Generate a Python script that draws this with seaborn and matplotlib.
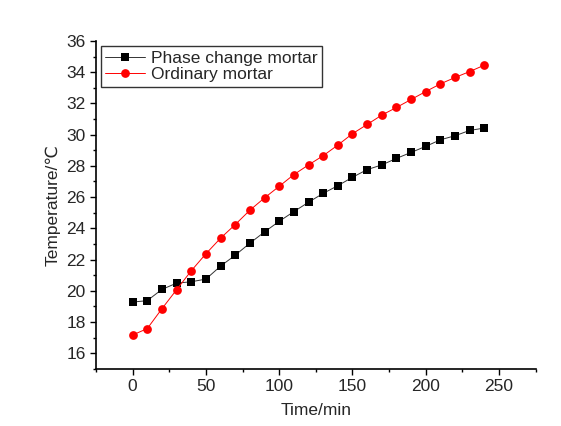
import matplotlib
matplotlib.use("Agg")
import matplotlib.pyplot as plt
from matplotlib.ticker import MultipleLocator
import seaborn as sns
import pandas as pd

time_min = [0, 10, 20, 30, 40, 50, 60, 70, 80, 90, 100, 110, 120,
            130, 140, 150, 160, 170, 180, 190, 200, 210, 220, 230, 240]
phase_change = [19.28, 19.37, 20.09, 20.49, 20.58, 20.75, 21.58, 22.28, 23.05, 23.77,
                24.45, 25.07, 25.67, 26.24, 26.73, 27.27, 27.76, 28.06, 28.48, 28.86,
                29.25, 29.67, 29.93, 30.27, 30.42]
ordinary = [17.17, 17.58, 18.85, 20.07, 21.28, 22.37, 23.37, 24.24, 25.16, 25.95,
            26.69, 27.44, 28.06, 28.65, 29.33, 30.06, 30.65, 31.25, 31.74, 32.25,
            32.76, 33.25, 33.66, 34.04, 34.45]
series_names = ["Phase change mortar", "Ordinary mortar"]

df = pd.DataFrame({
    "Time": time_min * 2,
    "Temp": phase_change + ordinary,
    "Series": [series_names[0]] * len(time_min) + [series_names[1]] * len(time_min),
})

sns.set_style("ticks")
plt.rcParams['font.family'] = ['Liberation Sans', 'DejaVu Sans']

fig = plt.figure(figsize=(5.61, 4.26), dpi=100)
ax = fig.add_axes([0.171, 0.134, 0.784, 0.770])

sns.lineplot(data=df, x="Time", y="Temp", hue="Series", style="Series",
             palette={series_names[0]: "black", series_names[1]: "red"},
             markers={series_names[0]: "s", series_names[1]: "o"},
             dashes=False, markersize=6.3, markeredgewidth=0, linewidth=0.7,
             ax=ax)
for ln in ax.lines:
    if ln.get_marker() == 's':
        ln.set_markersize(5.8)
        ln.set_color('#333333')
        ln.set_markerfacecolor('black')

ax.set_xlim(-25, 275)
ax.set_ylim(15, 36)
ax.xaxis.set_major_locator(MultipleLocator(50))
ax.xaxis.set_minor_locator(MultipleLocator(25))
ax.yaxis.set_minor_locator(MultipleLocator(1))
ax.set_yticks(range(16, 37, 2))
ax.tick_params(axis='both', which='major', length=4.5, width=1, direction='out',
               labelsize=12.5, color='black', pad=3)
ax.tick_params(axis='both', which='minor', length=2.5, width=1, direction='out',
               color='black')
for s in ['top', 'right']:
    ax.spines[s].set_visible(False)
for s in ['left', 'bottom']:
    ax.spines[s].set_linewidth(1.2)
    ax.spines[s].set_color('black')

ax.set_xlabel("Time/min", fontsize=12.5, labelpad=6)
ax.set_ylabel("Temperature/℃", fontsize=12.5, labelpad=4)

leg = ax.legend(loc="upper left", bbox_to_anchor=(0.0, 1.0), fontsize=12.5,
                frameon=True, fancybox=False, edgecolor='black',
                handlelength=2.3, handletextpad=0.3, borderpad=0.25,
                labelspacing=0.1, borderaxespad=0.3)
leg.get_frame().set_linewidth(1.0)

fig.savefig("out.png", dpi=100)
